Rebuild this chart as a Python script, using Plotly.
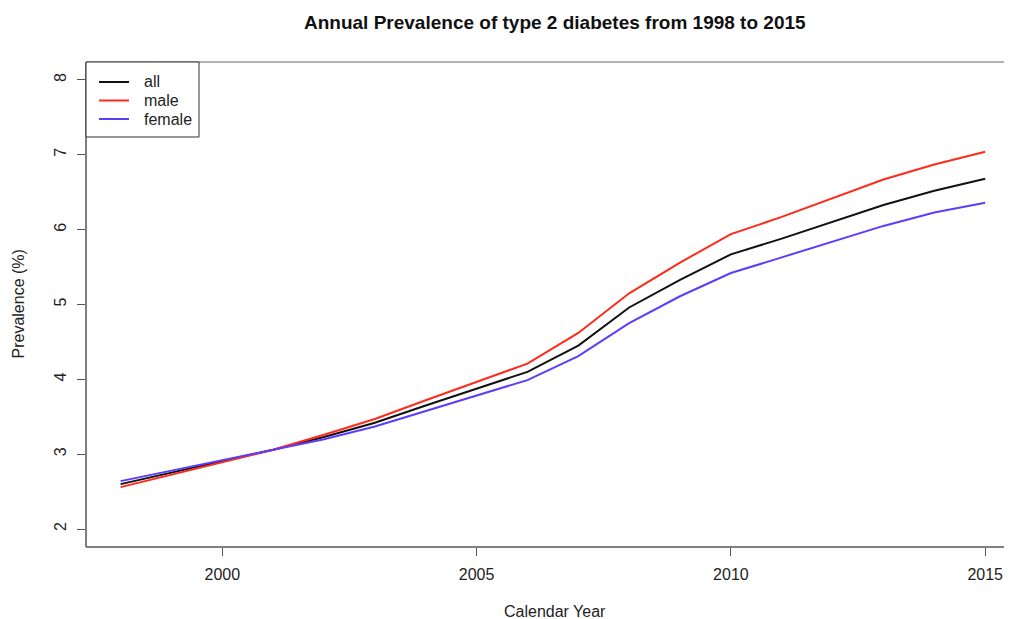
import plotly.graph_objects as go

years = list(range(1998, 2016))
prev_all = [2.60, 2.75, 2.90, 3.06, 3.23, 3.42, 3.65, 3.88, 4.10, 4.45, 4.96, 5.33, 5.67, 5.88, 6.10, 6.33, 6.52, 6.68]
prev_male = [2.56, 2.73, 2.89, 3.06, 3.26, 3.47, 3.72, 3.96, 4.21, 4.62, 5.15, 5.56, 5.94, 6.17, 6.42, 6.67, 6.87, 7.04]
prev_female = [2.64, 2.78, 2.91, 3.05, 3.20, 3.37, 3.58, 3.79, 3.99, 4.31, 4.75, 5.11, 5.42, 5.63, 5.84, 6.05, 6.23, 6.36]
series_names = ["all", "male", "female"]
series_colors = ["#111111", "#ff2a1a", "#5b3dff"]
x_ticks = [2000, 2005, 2010, 2015]
y_ticks = [2, 3, 4, 5, 6, 7, 8]

FONT = "Liberation Sans, Arial, Helvetica, sans-serif"
AX = "#555555"
TXT = "#222222"

fig = go.Figure()
for name, vals, col in zip(series_names, [prev_all, prev_male, prev_female], series_colors):
    fig.add_trace(go.Scatter(x=years, y=vals, mode="lines", name=name,
                             line=dict(color=col, width=2), showlegend=False))

x0, x1 = 1997.32, 2015.37
y0, y1 = 1.76, 8.24
PH = 485.0
PW = 918.0
# page pixel -> paper helpers (plot area: left 86, top 62)
px = lambda p: (p - 86) / PW
py = lambda p: 1 - (p - 62) / PH
xc = (x0 + 2015.68) / 2

shapes = [
    dict(type="line", xref="paper", yref="paper", x0=0, x1=0, y0=0, y1=1,
         line=dict(color=AX, width=1.5)),
    dict(type="line", xref="paper", yref="paper", x0=0, x1=1, y0=0, y1=0,
         line=dict(color=AX, width=1.5)),
    dict(type="line", xref="paper", yref="paper", x0=0, x1=1, y0=1, y1=1,
         line=dict(color="#9a9a9a", width=1.5)),
    # legend box
    dict(type="rect", xref="paper", yref="paper", x0=px(86), x1=px(199), y0=py(137), y1=py(62),
         line=dict(color="#333333", width=1), fillcolor="white", layer="above"),
]
annotations = [
    dict(text="<b>Annual Prevalence of type 2 diabetes from 1998 to 2015</b>",
         xref="paper", yref="paper", x=px(555), y=py(22), xanchor="center",
         yanchor="middle", showarrow=False, font=dict(size=19, color="#111111")),
    dict(text="Calendar Year", xref="paper", yref="paper", x=px(555), y=py(611),
         xanchor="center", yanchor="middle", showarrow=False,
         font=dict(size=16, color=TXT)),
    dict(text="Prevalence (%)", xref="paper", yref="paper", x=px(18), y=0.5,
         xanchor="center", yanchor="middle", textangle=-90, showarrow=False,
         font=dict(size=16, color=TXT)),
]
rows = [82, 100.5, 119]
for name, col, ry in zip(series_names, series_colors, rows):
    shapes.append(dict(type="line", xref="paper", yref="paper", x0=px(99), x1=px(129),
                       y0=py(ry), y1=py(ry), line=dict(color=col, width=2), layer="above"))
    annotations.append(dict(text=name, xref="paper", yref="paper", x=px(142), y=py(ry),
                            xanchor="left", yanchor="middle", showarrow=False,
                            font=dict(size=16, color=TXT)))

fig.update_layout(
    width=996, height=611,
    margin=dict(l=78, r=0, t=54, b=72),
    paper_bgcolor="white", plot_bgcolor="white",
    font=dict(family=FONT, size=16, color=TXT),
    showlegend=False,
    xaxis=dict(range=[x0, x1], tickvals=x_ticks, ticktext=[str(v) for v in x_ticks],
               showgrid=False, zeroline=False, showline=False,
               ticks="outside", ticklen=8, tickcolor=AX, tickwidth=1,
               ticklabelstandoff=5,
               tickfont=dict(size=16, color=TXT)),
    yaxis=dict(range=[y0, y1], tickvals=y_ticks, ticktext=[str(v) for v in y_ticks],
               showgrid=False, zeroline=False, showline=False,
               ticks="outside", ticklen=8, tickcolor=AX, tickwidth=1,
               tickangle=-90, ticklabelstandoff=5,
               tickfont=dict(size=16, color=TXT)),
    shapes=shapes,
    annotations=annotations,
)

fig.write_html("out.html")
